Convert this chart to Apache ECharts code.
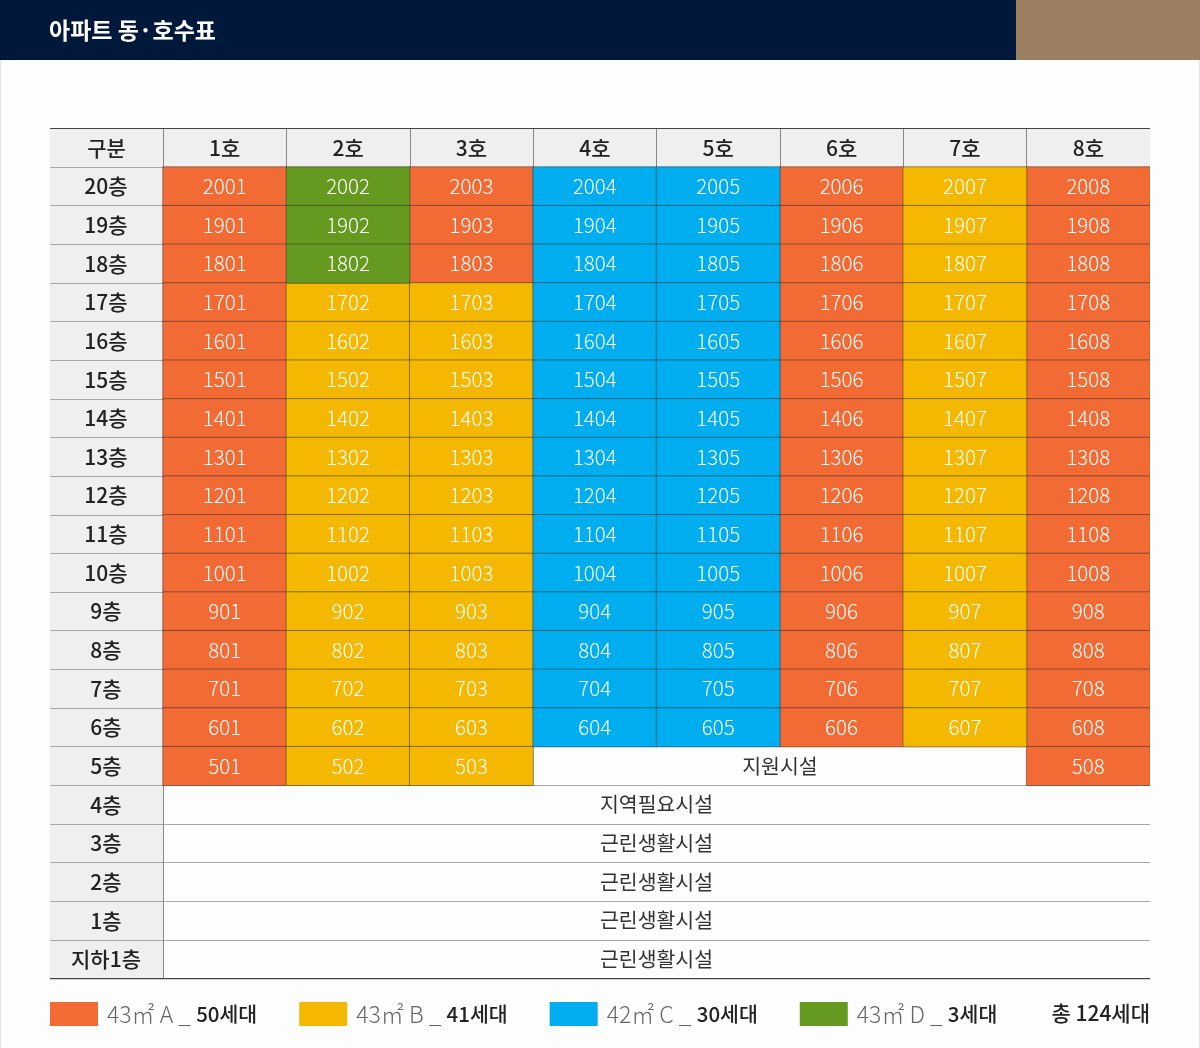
<!DOCTYPE html>
<html>
<head>
<meta charset="utf-8">
<script src="https://cdn.jsdelivr.net/npm/echarts@6/dist/echarts.min.js"></script>
<style>
  html, body { margin: 0; padding: 0; background: #fdfdfd; }
  #chart { width: 1200px; height: 1048px; }
</style>
</head>
<body>
<div id="chart"></div>
<script>
const lines = ["1호", "2호", "3호", "4호", "5호", "6호", "7호", "8호"];
const floors = ["20층", "19층", "18층", "17층", "16층", "15층", "14층", "13층", "12층", "11층", "10층",
  "9층", "8층", "7층", "6층", "5층", "4층", "3층", "2층", "1층", "지하1층"];

// room numbers per floor, null = no unit on that line
const rooms = [
  [2001, 2002, 2003, 2004, 2005, 2006, 2007, 2008],
  [1901, 1902, 1903, 1904, 1905, 1906, 1907, 1908],
  [1801, 1802, 1803, 1804, 1805, 1806, 1807, 1808],
  [1701, 1702, 1703, 1704, 1705, 1706, 1707, 1708],
  [1601, 1602, 1603, 1604, 1605, 1606, 1607, 1608],
  [1501, 1502, 1503, 1504, 1505, 1506, 1507, 1508],
  [1401, 1402, 1403, 1404, 1405, 1406, 1407, 1408],
  [1301, 1302, 1303, 1304, 1305, 1306, 1307, 1308],
  [1201, 1202, 1203, 1204, 1205, 1206, 1207, 1208],
  [1101, 1102, 1103, 1104, 1105, 1106, 1107, 1108],
  [1001, 1002, 1003, 1004, 1005, 1006, 1007, 1008],
  [901, 902, 903, 904, 905, 906, 907, 908],
  [801, 802, 803, 804, 805, 806, 807, 808],
  [701, 702, 703, 704, 705, 706, 707, 708],
  [601, 602, 603, 604, 605, 606, 607, 608],
  [501, 502, 503, null, null, null, null, 508]
];
// unit type per floor, same order as rooms
const roomTypes = ["ADACCABA", "ADACCABA", "ADACCABA",
  "ABBCCABA", "ABBCCABA", "ABBCCABA", "ABBCCABA", "ABBCCABA", "ABBCCABA",
  "ABBCCABA", "ABBCCABA", "ABBCCABA", "ABBCCABA", "ABBCCABA", "ABBCCABA",
  "ABB....A"];

const typeKeys = ["A", "B", "C", "D"];
const typeNames = ["43㎡ A", "43㎡ B", "42㎡ C", "43㎡ D"];
const typeCounts = [50, 41, 30, 3];
const typeColors = ["#f26b35", "#f4b800", "#00aeef", "#65991f"];

// [first line, last line, floor]
const facilitySpans = [[3, 6, 15], [0, 7, 16], [0, 7, 17], [0, 7, 18], [0, 7, 19], [0, 7, 20]];
const facilityNames = ["지원시설", "지역필요시설", "근린생활시설", "근린생활시설", "근린생활시설", "근린생활시설"];

const FONT = '"Noto Sans CJK KR", "Noto Sans", sans-serif';
const LEFT = 50, HEAD_RIGHT = 163, RIGHT = 1150;
const TOP = 129, BODY_TOP = 167, BOTTOM = 978.5;

const cellData = (key) => {
  const out = [];
  rooms.forEach((row, y) => row.forEach((room, x) => {
    if (room !== null && roomTypes[y][x] === key) out.push([x, y, room]);
  }));
  return out;
};

const chart = echarts.init(document.getElementById("chart"), null, { renderer: "canvas" });

const option = {
  animation: false,
  backgroundColor: "#fdfdfd",
  textStyle: { fontFamily: FONT },
  title: {
    text: "아파트 동·호수표",
    left: 44, top: 14,
    textStyle: { color: "#ffffff", fontSize: 23, fontWeight: 700, fontFamily: FONT }
  },
  legend: {
    left: 50, top: 1002,
    padding: 0,
    icon: "rect",
    itemWidth: 48, itemHeight: 24, itemGap: 42,
    itemStyle: { borderWidth: 0 },
    selectedMode: false,
    data: typeNames,
    formatter: (name) => {
      const i = typeNames.indexOf(name);
      return `{t|${name} _ }{n|${typeCounts[i]}세대}`;
    },
    textStyle: {
      rich: {
        t: { fontSize: 23, color: "#666666", fontWeight: 300, fontFamily: FONT, padding: [0, 0, 0, 4] },
        n: { fontSize: 20.5, color: "#222222", fontWeight: 500, fontFamily: FONT }
      }
    }
  },
  grid: { left: HEAD_RIGHT, top: BODY_TOP, width: RIGHT - HEAD_RIGHT, height: BOTTOM - BODY_TOP },
  xAxis: {
    type: "category",
    position: "top",
    data: lines,
    axisLine: { show: false },
    axisTick: { show: true, length: BODY_TOP - TOP, lineStyle: { color: "#8a8a8a", width: 1 } },
    axisLabel: { margin: 19, verticalAlign: "middle", color: "#222222", fontSize: 21, fontWeight: 500, fontFamily: FONT },
    splitLine: { show: false }
  },
  yAxis: {
    type: "category",
    inverse: true,
    data: floors,
    axisLine: { show: true, lineStyle: { color: "#8a8a8a", width: 1 } },
    axisTick: { show: true, length: HEAD_RIGHT - LEFT, lineStyle: { color: "#a8a8a8", width: 1 } },
    axisLabel: { margin: 57, align: "center", color: "#222222", fontSize: 21, fontWeight: 500, fontFamily: FONT },
    splitLine: { show: true, lineStyle: { color: "#a8a8a8", width: 1 } }
  },
  series: [
    ...typeKeys.map((key, i) => ({
      name: typeNames[i],
      type: "heatmap",
      data: cellData(key),
      itemStyle: { color: typeColors[i], borderColor: "rgba(50,50,50,0.5)", borderWidth: 1 },
      emphasis: { disabled: true },
      label: {
        show: true,
        formatter: (p) => String(p.value[2]),
        color: "#ffffff",
        fontSize: 20.5,
        fontWeight: 300,
        fontFamily: FONT
      }
    })),
    {
      type: "custom",
      data: facilitySpans,
      silent: true,
      encode: { x: [0, 1], y: 2 },
      renderItem: (params, api) => {
        const start = api.coord([api.value(0), api.value(2)]);
        const end = api.coord([api.value(1), api.value(2)]);
        return {
          type: "text",
          style: {
            text: facilityNames[params.dataIndex],
            x: (start[0] + end[0]) / 2,
            y: start[1],
            align: "center",
            verticalAlign: "middle",
            fill: "#333333",
            fontSize: 20.5,
            fontWeight: 400,
            fontFamily: FONT
          }
        };
      }
    }
  ],
  graphic: [
    // page bar and frame
    { type: "rect", z: -10, shape: { x: 0, y: 0, width: 1016, height: 60 }, style: { fill: "#00183a" } },
    { type: "rect", z: -10, shape: { x: 1016, y: 0, width: 184, height: 60 }, style: { fill: "#9b7f61" } },
    { type: "rect", z: -10, shape: { x: 0, y: 60, width: 1, height: 988 }, style: { fill: "#e2e2e2" } },
    { type: "rect", z: -10, shape: { x: 1199, y: 60, width: 1, height: 988 }, style: { fill: "#e2e2e2" } },
    // header bands
    { type: "rect", z: -10, shape: { x: LEFT, y: TOP, width: RIGHT - LEFT, height: BODY_TOP - TOP }, style: { fill: "#efefef" } },
    { type: "rect", z: -10, shape: { x: LEFT, y: BODY_TOP, width: HEAD_RIGHT - LEFT, height: BOTTOM - BODY_TOP }, style: { fill: "#efefef" } },
    // table has no outer right edge, cover the last tick and cell border
    { type: "rect", z: 20, shape: { x: RIGHT, y: TOP - 2, width: 3, height: BOTTOM - TOP + 4 }, style: { fill: "#fdfdfd" } },
    // top and bottom rules
    { type: "rect", z: 21, shape: { x: LEFT, y: TOP - 1, width: RIGHT - LEFT, height: 1 }, style: { fill: "#444444" } },
    { type: "rect", z: 21, shape: { x: LEFT, y: BOTTOM - 0.5, width: RIGHT - LEFT, height: 1.2 }, style: { fill: "#444444" } },
    { type: "text", z: 10, style: { text: "구분", x: (LEFT + HEAD_RIGHT) / 2, y: (TOP + BODY_TOP) / 2, align: "center", verticalAlign: "middle", fill: "#222222", fontSize: 21, fontWeight: 500, fontFamily: FONT } },
    { type: "text", z: 10, style: { text: "총 124세대", x: RIGHT, y: 1013, align: "right", verticalAlign: "middle", fill: "#222222", fontSize: 21, fontWeight: 500, fontFamily: FONT } }
  ]
};

chart.setOption(option);
</script>
</body>
</html>
